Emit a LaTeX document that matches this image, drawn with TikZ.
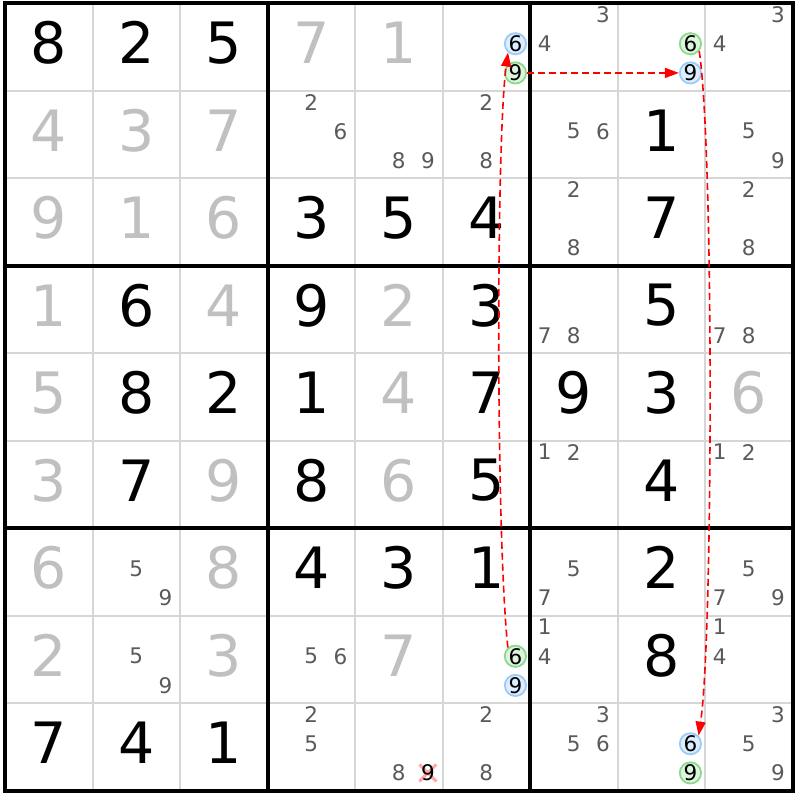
\documentclass[tikz,border=0pt]{standalone}
\usepackage{fontspec}
\setmainfont{DejaVu Sans}
\usetikzlibrary{arrows.meta}
\definecolor{gridgray}{HTML}{D6D6D6}
\definecolor{givgray}{HTML}{C0C0C0}
\definecolor{candgray}{HTML}{5A5A5A}
\definecolor{bluefill}{HTML}{DDEEFF}
\definecolor{blueline}{HTML}{9CCBF7}
\definecolor{greenfill}{HTML}{DDF5DD}
\definecolor{greenline}{HTML}{8ED88E}
\definecolor{xred}{HTML}{FF8A8A}
\begin{document}
\begin{tikzpicture}[x=1pt,y=-1pt,
  big/.style={inner sep=0pt, font=\fontsize{57}{57}\selectfont},
  bigblack/.style={big, text=black},
  biggray/.style={big, text=givgray},
  cand/.style={inner sep=0pt, font=\fontsize{21.5}{21.5}\selectfont, text=candgray},
  ring/.style={circle, inner sep=0pt, minimum size=21pt, line width=1.8pt, font=\fontsize{21.5}{21.5}\selectfont, text=black},
  bluering/.style={ring, fill=bluefill, draw=blueline},
  greenring/.style={ring, fill=greenfill, draw=greenline},
  thinline/.style={draw=gridgray, line width=2pt},
  thickline/.style={draw=black, line width=4pt},
  link/.style={red, line width=1.6pt, dash pattern=on 7pt off 4pt, -{Triangle[length=14pt,width=10pt]}},
  xmark/.style={draw=xred, line width=3pt, opacity=0.75}
]
\fill[white] (0,0) rectangle (800,800);
\useasboundingbox (0,0) rectangle (800,800);
% thin grid
\foreach \i in {1,2,4,5,7,8} {
  \draw[thinline] (5+\i*87.5,3) -- (5+\i*87.5,790.5);
  \draw[thinline] (5,3+\i*87.5) -- (792.5,3+\i*87.5);
}
% thick grid
\foreach \i in {3,6} {
  \draw[thickline] (5+\i*87.5,3) -- (5+\i*87.5,790.5);
  \draw[thickline] (5,3+\i*87.5) -- (792.5,3+\i*87.5);
}
\draw[thickline] (5,3) rectangle (792.5,790.5);
% black big digits
\foreach \r/\c/\d in {1/1/8,1/2/2,1/3/5,2/8/1,3/4/3,3/5/5,3/6/4,3/8/7,
  4/2/6,4/4/9,4/6/3,4/8/5,5/2/8,5/3/2,5/4/1,5/6/7,5/7/9,5/8/3,
  6/2/7,6/4/8,6/6/5,6/8/4,7/4/4,7/5/3,7/6/1,7/8/2,8/8/8,9/1/7,9/2/4,9/3/1}
  \node[bigblack] (v\r\c) at (48.75+\c*87.5-87.5, 42.75+\r*87.5-87.5) {\d};
% gray big digits
\foreach \r/\c/\d in {1/4/7,1/5/1,2/1/4,2/2/3,2/3/7,3/1/9,3/2/1,3/3/6,
  4/1/1,4/3/4,4/5/2,5/1/5,5/5/4,5/9/6,6/1/3,6/3/9,6/5/6,7/1/6,7/3/8,
  8/1/2,8/3/3,8/5/7}
  \node[biggray] (v\r\c) at (48.75+\c*87.5-87.5, 42.75+\r*87.5-87.5) {\d};
% plain candidates
\foreach \r/\c/\d in {1/7/3,1/7/4,1/9/3,1/9/4,
  2/4/2,2/4/6,2/5/8,2/5/9,2/6/2,2/6/8,2/7/5,2/7/6,2/9/5,2/9/9,
  3/7/2,3/7/8,3/9/2,3/9/8,4/7/7,4/7/8,4/9/7,4/9/8,
  6/7/1,6/7/2,6/9/1,6/9/2,
  7/2/5,7/2/9,7/7/5,7/7/7,7/9/5,7/9/7,7/9/9,
  8/2/5,8/2/9,8/4/5,8/4/6,8/7/1,8/7/4,8/9/1,8/9/4,
  9/4/2,9/4/5,9/5/8,9/6/2,9/6/8,9/7/3,9/7/5,9/7/6,9/9/3,9/9/5,9/9/9} {
  \pgfmathsetmacro\cx{5+(\c-1)*87.5+(mod(\d-1,3)+0.5)*29.1667}
  \pgfmathsetmacro\cy{3+(\r-1)*87.5+(int((\d-1)/3)+0.5)*29.1667-3}
  \node[cand] (k\r\c\d) at (\cx,\cy) {\d};
}
% eliminated candidate
\coordinate (x959) at (427.9,772.9);
\draw[xmark] ([shift={(-8.5,-8.5)}]x959) -- ([shift={(8.5,8.5)}]x959);
\draw[xmark] ([shift={(8.5,-8.5)}]x959) -- ([shift={(-8.5,8.5)}]x959);
\node[cand, text=black] (k959) at (x959) {9};
% ringed candidates
\foreach \r/\c/\d/\s in {1/6/6/bluering,1/6/9/greenring,1/8/6/greenring,1/8/9/bluering,
  8/6/6/greenring,8/6/9/bluering,9/8/6/bluering,9/8/9/greenring} {
  \pgfmathsetmacro\cx{5+(\c-1)*87.5+(mod(\d-1,3)+0.5)*29.1667}
  \pgfmathsetmacro\cy{3+(\r-1)*87.5+(int((\d-1)/3)+0.5)*29.1667-3}
  \node[\s] (k\r\c\d) at (\cx,\cy) {\d};
}
% links
\draw[link] (k866.131) .. controls (496,540) and (496,140) .. (k166.230);
\draw[link] (k169.east) -- (k189.west);
\draw[link] (k186.320) .. controls (714,150) and (713,640) .. (k986.45);
\end{tikzpicture}
\end{document}
